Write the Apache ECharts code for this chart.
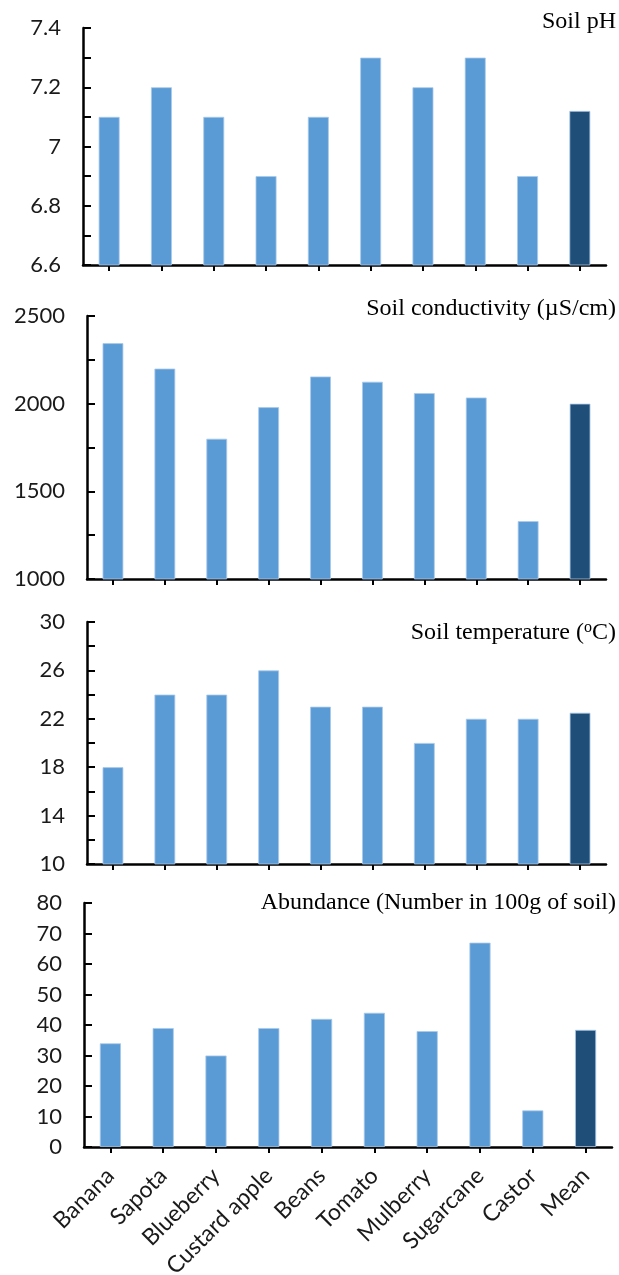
<!DOCTYPE html>
<html>
<head>
<meta charset="utf-8">
<script src="https://cdn.jsdelivr.net/npm/echarts@6/dist/echarts.min.js"></script>
<style>
html,body{margin:0;padding:0;background:#fff;}
#chart{width:619px;height:1275px;}
</style>
</head>
<body>
<div id="chart"></div>
<script>
// ---- data ----
const categories = ['Banana','Sapota','Blueberry','Custard apple','Beans','Tomato','Mulberry','Sugarcane','Castor','Mean'];
const soilPH = [7.1, 7.2, 7.1, 6.9, 7.1, 7.3, 7.2, 7.3, 6.9, 7.12];
const soilConductivity = [2345, 2200, 1800, 1980, 2155, 2125, 2060, 2035, 1330, 2000];
const soilTemperature = [18, 24, 24, 26, 23, 23, 20, 22, 22, 22.5];
const abundance = [34, 39, 30, 39, 42, 44, 38, 67, 12, 38.4];
const panelTitles = ['Soil pH', 'Soil conductivity (\u00B5S/cm)', 'Soil temperature ({sup|o}C)', 'Abundance (Number in 100g of soil)'];
// axis ranges: [min, max, tick step, label step]
const phAxis = [6.6, 7.4, 0.1, 0.2];
const condAxis = [1000, 2500, 250, 500];
const tempAxis = [10, 30, 2, 4];
const abunAxis = [0, 80, 10, 10];

const LIGHT = '#5B9BD5';
const DARK = '#1F4E79';
const LABEL_FONT = 'Lato';
const LABEL_COLOR = '#1a1a1a';

const grids = [
  {left: 83, right: 13, top: 28, height: 237, outerBoundsMode: 'none', containLabel: false},
  {left: 87, right: 13, top: 316, height: 263, outerBoundsMode: 'none', containLabel: false},
  {left: 87, right: 13, top: 622, height: 242, outerBoundsMode: 'none', containLabel: false},
  {left: 84, right: 7, top: 903, height: 244, outerBoundsMode: 'none', containLabel: false}
];
const titleTops = [10, 297, 620, 891];
const series = [soilPH, soilConductivity, soilTemperature, abundance];
const axes = [phAxis, condAxis, tempAxis, abunAxis];

function makeFormatter(ax){
  const [min, , , lstep] = ax;
  return function(v){
    const k = (v - min) / lstep;
    if (Math.abs(k - Math.round(k)) > 1e-6) return '';
    return String(Math.round(v * 100) / 100);
  };
}

const option = {
  animation: false,
  backgroundColor: '#ffffff',
  title: panelTitles.map((t, i) => ({
    text: t,
    right: 3,
    top: titleTops[i],
    padding: 0,
    textStyle: {
      fontFamily: 'Liberation Serif',
      fontSize: 24,
      fontWeight: 'normal',
      color: '#000',
      rich: {sup: {fontFamily: 'Liberation Serif', fontSize: 16, verticalAlign: 'top', padding: [0, 0, 10, 0], color: '#000'}}
    }
  })),
  grid: grids,
  xAxis: grids.map((g, i) => ({
    type: 'category',
    gridIndex: i,
    data: categories,
    boundaryGap: true,
    axisLine: {show: true, lineStyle: {color: '#000', width: 2.5}},
    axisTick: {show: true, alignWithLabel: true, interval: 0, length: 6, lineStyle: {color: '#000', width: 2}},
    axisLabel: i === 3 ? {
      show: true, interval: 0, rotate: 45, margin: 25, hideOverlap: false,
      fontFamily: LABEL_FONT, fontSize: 23, color: LABEL_COLOR
    } : {show: false},
    splitLine: {show: false}
  })),
  yAxis: axes.map((ax, i) => ({
    type: 'value',
    gridIndex: i,
    min: ax[0],
    max: ax[1],
    interval: ax[2],
    axisLine: {show: true, lineStyle: {color: '#000', width: 2.5}},
    axisTick: {show: true, inside: true, length: 8, lineStyle: {color: '#000', width: 2}},
    axisLabel: {
      show: true, margin: 22, formatter: makeFormatter(ax),
      fontFamily: LABEL_FONT, fontSize: 22, color: LABEL_COLOR
    },
    splitLine: {show: false}
  })),
  series: series.map((vals, i) => ({
    type: 'bar',
    xAxisIndex: i,
    yAxisIndex: i,
    barWidth: '40%',
    data: vals.map((v, j) => ({
      value: v,
      itemStyle: {color: categories[j] === 'Mean' ? DARK : LIGHT, borderColor: '#a9c9ea', borderWidth: 0.8}
    }))
  }))
};

const chart = echarts.init(document.getElementById('chart'), null, {renderer: 'canvas'});
chart.setOption(option);
</script>
</body>
</html>
